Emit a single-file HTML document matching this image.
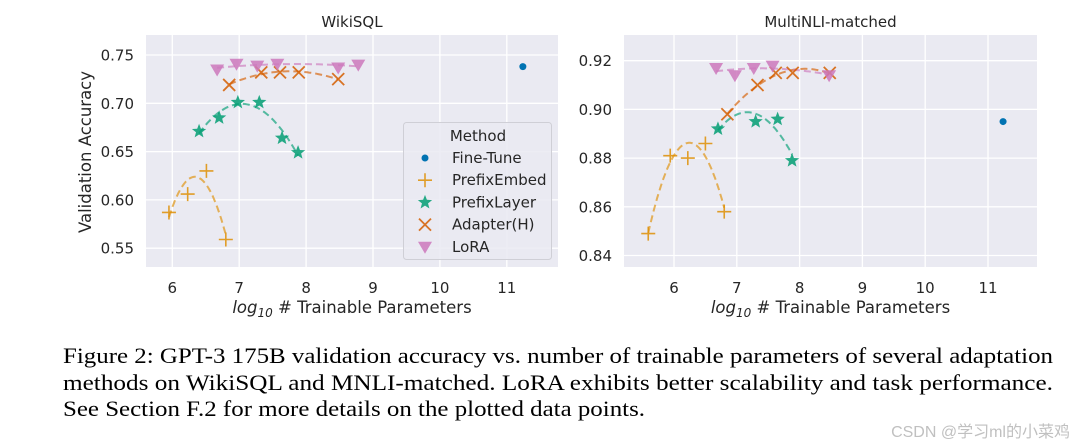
<!DOCTYPE html>
<html><head><meta charset="utf-8"><style>
body{margin:0;background:#fff;}
svg{display:block;}
text{font-family:"DejaVu Sans","Liberation Sans",sans-serif;}
.tick{font-size:15px;fill:#262626;}
.lab{font-size:16.5px;fill:#262626;}
.cap{font-family:"Liberation Serif",serif;font-size:22px;fill:#000;}
</style></head><body>
<svg id="fig" width="1075" height="447" xmlns="http://www.w3.org/2000/svg">
<g id="p1"></g>
<g id="p2"></g>
<text class="cap" x="63" y="363" textLength="990" lengthAdjust="spacingAndGlyphs">Figure 2: GPT-3 175B validation accuracy vs. number of trainable parameters of several adaptation</text>
<text class="cap" x="63" y="390" textLength="990" lengthAdjust="spacingAndGlyphs">methods on WikiSQL and MNLI-matched. LoRA exhibits better scalability and task performance.</text>
<text class="cap" x="63" y="416" textLength="582" lengthAdjust="spacingAndGlyphs">See Section F.2 for more details on the plotted data points.</text>
<text x="1070" y="437" text-anchor="end" style="font-family:'Liberation Sans','Noto Sans CJK SC',sans-serif;font-size:16px;fill:#c0c0c0">CSDN @学习ml的小菜鸡</text>
</svg>
<script>
// WikiSQL data
const wFineX=[11.24], wFineY=[0.738];
const wEmbX=[5.95,6.23,6.51,6.80], wEmbY=[0.587,0.606,0.630,0.559];
const wLayX=[6.40,6.70,6.98,7.30,7.64,7.88], wLayY=[0.671,0.685,0.701,0.701,0.664,0.649];
const wAdpX=[6.85,7.33,7.61,7.89,8.48], wAdpY=[0.719,0.732,0.732,0.732,0.725];
const wLoraX=[6.67,6.96,7.27,7.57,8.48,8.78], wLoraY=[0.735,0.741,0.739,0.741,0.737,0.740];
const wXTicks=[6,7,8,9,10,11], wXLabels=["6","7","8","9","10","11"];
const wYTicks=[0.55,0.60,0.65,0.70,0.75], wYLabels=["0.55","0.60","0.65","0.70","0.75"];
// MNLI data
const mFineX=[11.24], mFineY=[0.895];
const mEmbX=[5.59,5.94,6.22,6.50,6.80], mEmbY=[0.849,0.881,0.880,0.886,0.858];
const mLayX=[6.70,7.30,7.65,7.88], mLayY=[0.892,0.895,0.896,0.879];
const mAdpX=[6.85,7.33,7.62,7.89,8.48], mAdpY=[0.898,0.910,0.915,0.915,0.915];
const mLoraX=[6.67,6.97,7.27,7.57,8.47], mLoraY=[0.917,0.914,0.917,0.918,0.914];
const mXTicks=[6,7,8,9,10,11], mXLabels=["6","7","8","9","10","11"];
const mYTicks=[0.84,0.86,0.88,0.90,0.92], mYLabels=["0.84","0.86","0.88","0.90","0.92"];

const C={fine:"#0173b2",emb:"#de8f05",lay:"#029e73",adp:"#d55e00",lora:"#cc78bc"};
const NS="http://www.w3.org/2000/svg";
function mk(parent,tag,attrs){const e=document.createElementNS(NS,tag);for(const k in attrs)e.setAttribute(k,attrs[k]);parent.appendChild(e);return e;}

function fit2(xs,ys){
  let S=[[0,0,0],[0,0,0],[0,0,0]],b=[0,0,0];
  for(let i=0;i<xs.length;i++){const p=[1,xs[i],xs[i]*xs[i]];for(let r=0;r<3;r++){b[r]+=p[r]*ys[i];for(let c=0;c<3;c++)S[r][c]+=p[r]*p[c];}}
  for(let i=0;i<3;i++){let m=i;for(let r=i+1;r<3;r++)if(Math.abs(S[r][i])>Math.abs(S[m][i]))m=r;[S[i],S[m]]=[S[m],S[i]];[b[i],b[m]]=[b[m],b[i]];
    for(let r=0;r<3;r++){if(r===i)continue;const f=S[r][i]/S[i][i];for(let c=0;c<3;c++)S[r][c]-=f*S[i][c];b[r]-=f*b[i];}}
  return [b[0]/S[0][0],b[1]/S[1][1],b[2]/S[2][2]];
}

function marker(g,type,px,py,color){
  let e;
  if(type==="fine"){e=mk(g,"circle",{cx:px,cy:py,r:3.5,fill:color});}
  else if(type==="emb"){e=mk(g,"path",{d:`M${px-7} ${py}H${px+7}M${px} ${py-7}V${py+7}`,stroke:color,"stroke-width":1.6,fill:"none",opacity:0.85});}
  else if(type==="lay"){let d="";for(let k=0;k<10;k++){const r=k%2?3.2:7.5,a=-Math.PI/2+k*Math.PI/5;d+=(k?"L":"M")+(px+r*Math.cos(a)).toFixed(2)+" "+(py+r*Math.sin(a)).toFixed(2);}e=mk(g,"path",{d:d+"Z",fill:color,opacity:0.85});}
  else if(type==="adp"){e=mk(g,"path",{d:`M${px-6} ${py-6}L${px+6} ${py+6}M${px-6} ${py+6}L${px+6} ${py-6}`,stroke:color,"stroke-width":1.8,fill:"none",opacity:0.85});}
  else {e=mk(g,"path",{d:`M${px-7} ${py-5}H${px+7}L${px} ${py+7}Z`,fill:color,opacity:0.85});}
  return e;
}

function panel(gid,o){
  const g=document.getElementById(gid);
  const sx=v=>o.x0+(v-o.xv0)*o.kx, sy=v=>o.y0-(v-o.yv0)*o.ky;
  const bg=mk(g,"rect",{x:o.L,y:o.T,width:o.R-o.L,height:o.B-o.T,fill:"#eaeaf2"});
  
  
  o.xt.forEach((t,i)=>{const x=sx(t);
    const l=mk(g,"line",{x1:x,x2:x,y1:o.T,y2:o.B,stroke:"#fff","stroke-width":1.3});
    
    
    if(o.xl[i]){const tx=mk(g,"text",{x:x,y:o.B+26,"text-anchor":"middle",class:"tick"});tx.textContent=o.xl[i];
      
      }
  });
  o.yt.forEach((t,i)=>{const y=sy(t);
    const l=mk(g,"line",{x1:o.L,x2:o.R,y1:y,y2:y,stroke:"#fff","stroke-width":1.3});
    
    
    const tx=mk(g,"text",{x:o.L-12,y:y+5.5,"text-anchor":"end",class:"tick"});tx.textContent=o.yl[i];
    
    
  });
  const ti=mk(g,"text",{x:(o.L+o.R)/2,y:27,"text-anchor":"middle",class:"tick"});ti.textContent=o.title;
  
  
  const xl=mk(g,"text",{x:(o.L+o.R)/2,y:313,"text-anchor":"middle",class:"lab"});
  xl.innerHTML='<tspan font-style="italic">log</tspan><tspan font-style="italic" font-size="12" dy="4">10</tspan><tspan dy="-4"> # Trainable Parameters</tspan>';
  
  
  const series=[["emb",o.emb],["lay",o.lay],["adp",o.adp],["lora",o.lora]];
  series.forEach(([k,s])=>{
    const c=fit2(s[0],s[1]);const lo=Math.min(...s[0]),hi=Math.max(...s[0]);let d="";
    for(let i=0;i<=60;i++){const v=lo+(hi-lo)*i/60;const y=c[0]+c[1]*v+c[2]*v*v;d+=(i?"L":"M")+sx(v).toFixed(1)+" "+sy(y).toFixed(1);}
    const p=mk(g,"path",{d:d,fill:"none",stroke:C[k],"stroke-width":2,"stroke-dasharray":"7 4",opacity:0.65});
    
    
  });
  const all=[["fine",o.fine]].concat(series);
  all.forEach(([k,s])=>{s[0].forEach((xv,i)=>{const m=marker(g,k,sx(xv),sy(s[1][i]),C[k]);
    
    });});
}

panel("p1",{L:146,R:558,T:35,B:267,x0:172.3,xv0:6,kx:66.9,y0:55,yv0:0.75,ky:966,title:"WikiSQL",
  xt:wXTicks,xl:wXLabels,yt:wYTicks,yl:wYLabels,
  fine:[wFineX,wFineY],emb:[wEmbX,wEmbY],lay:[wLayX,wLayY],adp:[wAdpX,wAdpY],lora:[wLoraX,wLoraY]});
panel("p2",{L:624,R:1037,T:35,B:267,x0:674,xv0:6,kx:62.8,y0:60.7,yv0:0.92,ky:2435,title:"MultiNLI-matched",
  xt:mXTicks,xl:mXLabels,yt:mYTicks,yl:mYLabels,
  fine:[mFineX,mFineY],emb:[mEmbX,mEmbY],lay:[mLayX,mLayY],adp:[mAdpX,mAdpY],lora:[mLoraX,mLoraY]});

const svg=document.getElementById("fig");
const yt=mk(svg,"text",{x:0,y:0,transform:"translate(91,152) rotate(-90)","text-anchor":"middle",class:"lab"});
yt.textContent="Validation Accuracy";



const lg=mk(svg,"g",{});


mk(lg,"rect",{x:403.5,y:122.5,width:148,height:137,rx:3,fill:"#eaeaf2","fill-opacity":0.85,stroke:"#cfcfd6"});
const lt=mk(lg,"text",{x:478,y:141,"text-anchor":"middle",class:"tick"});lt.textContent="Method";


const legNames=["Fine-Tune","PrefixEmbed","PrefixLayer","Adapter(H)","LoRA"], legKeys=["fine","emb","lay","adp","lora"];
legNames.forEach((n,i)=>{const y=158+i*22.2;
  const e=mk(lg,"g",{});
  
  
  marker(e,legKeys[i],425,y,C[legKeys[i]]);
  const t=mk(e,"text",{x:452,y:y+5,class:"tick"});t.textContent=n;
});
</script>
</body></html>
